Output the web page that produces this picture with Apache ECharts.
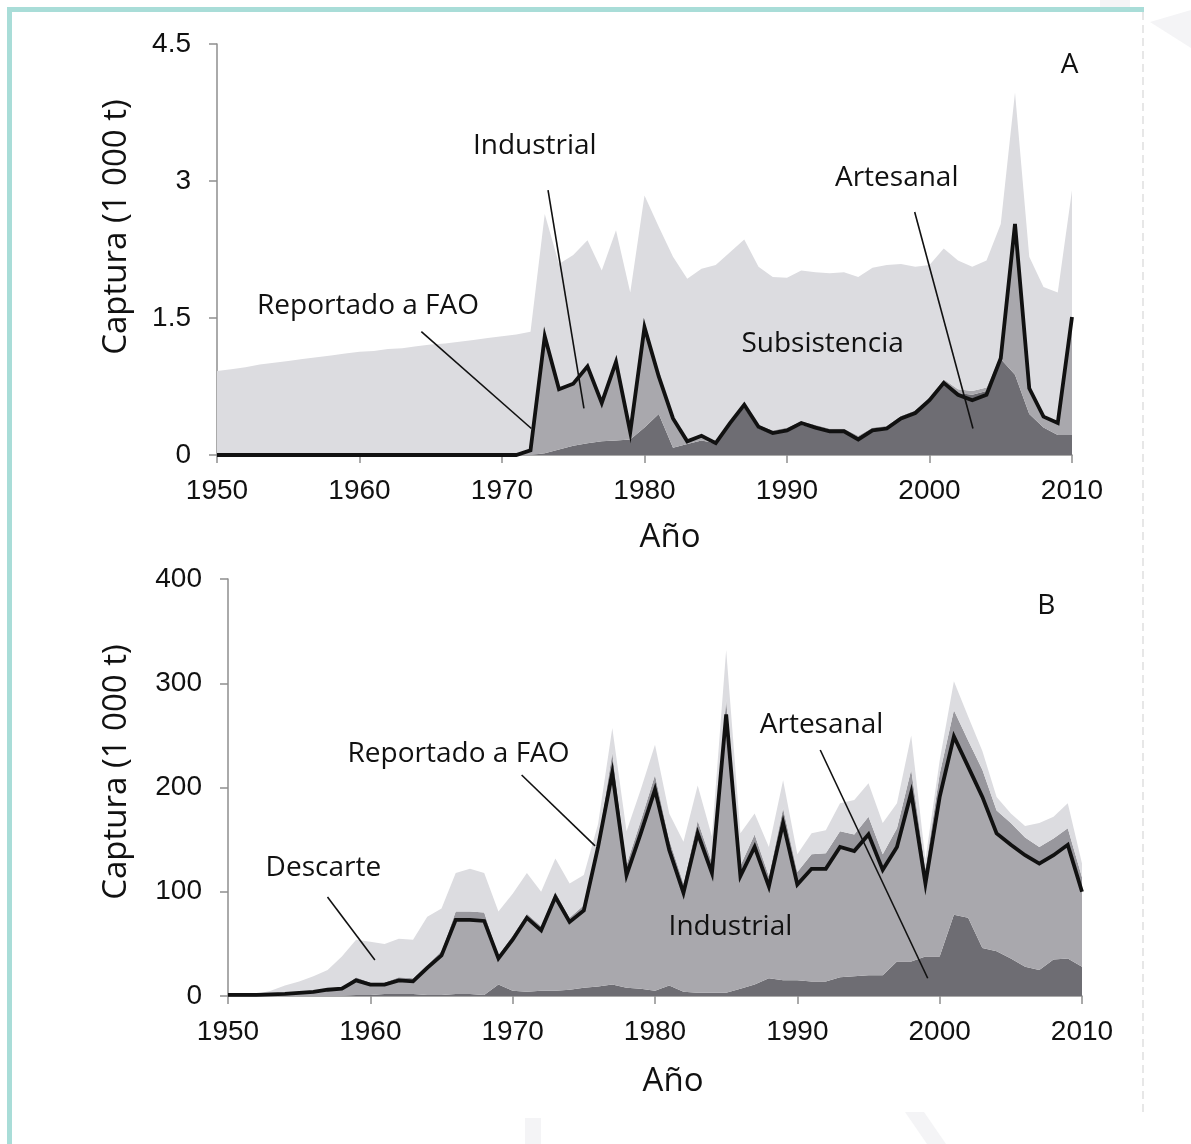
<!DOCTYPE html>
<html><head><meta charset="utf-8">
<script src="https://cdn.jsdelivr.net/npm/echarts@6/dist/echarts.min.js"></script>
<style>html,body{margin:0;padding:0;background:#fff}#c{width:1191px;height:1144px}</style>
</head><body><div id="c"></div>
<script>
// ---- categories ----
const years = [1950,1951,1952,1953,1954,1955,1956,1957,1958,1959,
1960,1961,1962,1963,1964,1965,1966,1967,1968,1969,
1970,1971,1972,1973,1974,1975,1976,1977,1978,1979,
1980,1981,1982,1983,1984,1985,1986,1987,1988,1989,
1990,1991,1992,1993,1994,1995,1996,1997,1998,1999,
2000,2001,2002,2003,2004,2005,2006,2007,2008,2009,2010];

// ---- Panel A (1 000 t) ----
const A_artesanal = [0,0,0,0,0,0,0,0,0,0, 0,0,0,0,0,0,0,0,0,0, 0,0,0,
0.02,0.06,0.10,0.13,0.15,0.16,0.17,0.30,0.45,0.08,0.12,0.16,0.13,0.33,0.52,0.29,0.23,0.26,0.33,0.29,0.25,0.25,0.17,0.26,0.28,0.39,0.45,0.58,0.78,0.68,0.66,0.70,1.05,0.88,0.45,0.30,0.22,0.22];
const A_industrial = [0,0,0,0,0,0,0,0,0,0, 0,0,0,0,0,0,0,0,0,0, 0,0,0.04,
1.28,0.66,0.68,0.84,0.42,0.86,0.08,1.10,0.41,0.32,0.05,0.05,0.03,0.04,0.05,0.04,0.04,0.04,0.04,0.04,0.04,0.04,0.04,0.04,0.04,0.04,0.04,0.04,0.05,0.04,0.04,0.04,0.05,1.65,0.28,0.12,0.14,1.29];
const A_subsistencia = [0.92,0.94,0.96,0.99,1.01,1.03,1.05,1.07,1.09,1.11,1.13,1.14,1.16,1.17,1.19,1.21,1.22,1.24,1.26,1.28,1.30,1.32,1.31,
1.34,1.37,1.41,1.38,1.45,1.44,1.53,1.44,1.64,1.77,1.76,1.83,1.92,1.85,1.79,1.73,1.68,1.64,1.65,1.67,1.70,1.71,1.74,1.75,1.76,1.66,1.57,1.46,1.43,1.41,1.36,1.39,1.43,1.44,1.44,1.42,1.42,1.39];
const A_reportado = [0,0,0,0,0,0,0,0,0,0, 0,0,0,0,0,0,0,0,0,0, 0,0,0.05,
1.30,0.72,0.78,0.97,0.57,1.02,0.25,1.40,0.86,0.40,0.15,0.21,0.13,0.35,0.55,0.31,0.24,0.27,0.35,0.30,0.26,0.26,0.17,0.27,0.29,0.40,0.46,0.60,0.79,0.66,0.60,0.66,1.06,2.53,0.73,0.42,0.35,1.51];
const A_ticks = [0, 1.5, 3, 4.5];

// ---- Panel B (1 000 t) ----
const B_artesanal = [0,0,0,0,0,0,0,0,0,1, 1,2,2,2,1,1,2,2,1,11,
5,4,5,5,6,8,9,11,8,7, 5,10,4,3,3,3,7,11,17,15, 15,14,14,18,19,20,20,33,33,38, 38,78,75,46,43,36,28,25,35,36,28];
const B_industrial = [1,1,1,1.5,2,3,4,6,7,14, 10,9,13,12,26,38,71,71,71,25,
49,71,58,90,65,74,134,203,108,149, 193,130,95,153,115,267,108,132,88,151,
92,108,108,125,120,135,101,110,162,70, 153,171,145,145,113,109,107,102,100,109,72];
const B_otros = [0,0,0,0.5,0.5,1,1,1,1.5,3, 2,2,3,3,3,4,8,8,8,3,
4,4,4,5,4,5,5,19,10,12, 14,10,9,12,10,14,10,12,10,14,
12,14,15,15,16,17,15,18,22,14, 22,25,25,26,22,21,17,16,16,16,14];
const B_descarte = [0,0,1,3,7.5,10,14,18,29.5,36, 39,37,37,37,46,41,37,41,38,42,
40,39,33,32,33,29,17,24,32,30, 29,25,40,34,25,48,31,20,28,27,
17,20,22,27,33,32,30,24,33,9, 13,28,23,18,13,9,11,23,21,24,13];
const B_reportado = [1,1,1,1.5,2,3,4,6,7,15, 11,11,15,14,27,39,73,73,72,36,
54,75,63,95,71,82,143,214,116,156, 198,140,99,156,118,270,115,143,105,166,
107,122,122,143,139,155,121,143,195,108, 191,249,220,191,156,145,135,127,135,145,100];
const B_ticks = [0, 100, 200, 300, 400];

// ---- annotations (data coordinates: year, value) ----
const A_labels = [
  {text:'Industrial', at:[1972.3, 3.38]},
  {text:'Reportado a FAO', at:[1960.6, 1.63]},
  {text:'Subsistencia', at:[1992.5, 1.22]},
  {text:'Artesanal', at:[1997.7, 3.03]}
];
const A_leaders = [
  [[1973.23, 2.90],[1975.75, 0.51]],
  [[1964.34, 1.35],[1972.06, 0.29]],
  [[1998.96, 2.66],[2003.05, 0.29]]
];
const B_labels = [
  {text:'Reportado a FAO', at:[1966.2, 232]},
  {text:'Descarte', at:[1956.7, 123]},
  {text:'Industrial', at:[1985.3, 66]},
  {text:'Artesanal', at:[1991.7, 260]}
];
const B_leaders = [
  [[1970.63, 212],[1975.79, 144]],
  [[1956.99, 95],[1960.32, 34.5]],
  [[1991.61, 236],[1999.16, 17]]
];

const COL_DARK = '#6e6d73', COL_MED = '#a9a8ad', COL_BAND = '#98979d', COL_LIGHT = '#dcdce0';
const axisCol = '#8e8e8e';
const tickFont = {color:'#111', fontFamily:'Liberation Sans, Arial, sans-serif', fontSize:28};

function catAxis(g){
  return {type:'category', gridIndex:g, data:years.map(String), boundaryGap:false,
    axisLine:{show:true, lineStyle:{color:axisCol, width:1.5}},
    axisTick:{show:true, interval:9, length:8, lineStyle:{color:axisCol, width:1.5}},
    axisLabel:Object.assign({interval:9, margin:22}, tickFont),
    splitLine:{show:false}};
}
function valAxis(g, max, interval){
  return {type:'value', gridIndex:g, min:0, max:max, interval:interval,
    axisLine:{show:true, lineStyle:{color:axisCol, width:1.5}},
    axisTick:{show:true, length:8, lineStyle:{color:axisCol, width:1.5}},
    axisLabel:Object.assign({margin:26}, tickFont),
    splitLine:{show:false}};
}
function area(name, g, stack, data, color){
  return {name, type:'line', xAxisIndex:g, yAxisIndex:g, stack, data, symbol:'none',
    lineStyle:{width:0}, areaStyle:{color, opacity:1}, itemStyle:{color}, z:2, silent:true, animation:false};
}
function repLine(g, data){
  return {name:'Reportado a FAO', type:'line', xAxisIndex:g, yAxisIndex:g, data, symbol:'none',
    lineStyle:{color:'#111', width:3.8, join:'miter'}, z:5, silent:true, animation:false};
}

const chart = echarts.init(document.getElementById('c'), null, {renderer:'canvas'});
chart.setOption({
  backgroundColor:'#ffffff',
  animation:false,
  grid:[
    {left:217, top:44, width:855, height:411},
    {left:228, top:579, width:854, height:417}
  ],
  xAxis:[catAxis(0), catAxis(1),
    {type:'value', gridIndex:0, min:1950, max:2010, show:false},
    {type:'value', gridIndex:1, min:1950, max:2010, show:false}],
  yAxis:[valAxis(0, A_ticks[A_ticks.length-1], A_ticks[1]-A_ticks[0]),
         valAxis(1, B_ticks[B_ticks.length-1], B_ticks[1]-B_ticks[0])],
  series:[
    area('Artesanal', 0, 'a', A_artesanal, COL_DARK),
    area('Industrial', 0, 'a', A_industrial, COL_MED),
    area('Subsistencia', 0, 'a', A_subsistencia, COL_LIGHT),
    repLine(0, A_reportado),
    area('Artesanal', 1, 'b', B_artesanal, COL_DARK),
    area('Industrial', 1, 'b', B_industrial, COL_MED),
    area('Otros', 1, 'b', B_otros, COL_BAND),
    area('Descarte', 1, 'b', B_descarte, COL_LIGHT),
    repLine(1, B_reportado)
  ]
});

function px(g, p){ return chart.convertToPixel({xAxisIndex: g===0?2:3, yAxisIndex:g}, p); }
const annFont = {fontFamily:'Open Sans, Noto Sans, sans-serif', fontSize:28, fill:'#111'};
const titleFont = {fontFamily:'Open Sans, Noto Sans, sans-serif', fontSize:33, fill:'#111'};
const gfx = [];
// frame
gfx.push({type:'rect', shape:{x:7,y:7,width:5,height:1137}, style:{fill:'#a9ddd8'}, z:1});
gfx.push({type:'rect', shape:{x:7,y:7,width:1137,height:5}, style:{fill:'#a9ddd8'}, z:1});
gfx.push({type:'line', shape:{x1:1143,y1:12,x2:1143,y2:1112}, style:{stroke:'#cfcfcf', lineWidth:1, lineDash:[8,5]}, z:1});
gfx.push({type:'polygon', shape:{points:[[1150,22],[1191,10],[1191,48]]}, style:{fill:'#f4f4f6'}, z:0});
gfx.push({type:'polygon', shape:{points:[[1100,0],[1130,0],[1130,7],[1100,7]]}, style:{fill:'#f4f4f6'}, z:0});
gfx.push({type:'polygon', shape:{points:[[525,1118],[541,1118],[541,1144],[525,1144]]}, style:{fill:'#f4f4f6'}, z:0});
gfx.push({type:'polygon', shape:{points:[[905,1112],[924,1112],[946,1144],[927,1144]]}, style:{fill:'#f4f4f6'}, z:0});
[[0,A_labels,A_leaders],[1,B_labels,B_leaders]].forEach(([g, labels, leaders])=>{
  labels.forEach(l=>{
    const p = px(g, l.at);
    gfx.push({type:'text', x:p[0], y:p[1], z:20, style:Object.assign({text:l.text, textAlign:'center', textVerticalAlign:'middle'}, annFont)});
  });
  leaders.forEach(seg=>{
    const a = px(g, seg[0]), b = px(g, seg[1]);
    gfx.push({type:'line', z:20, shape:{x1:a[0],y1:a[1],x2:b[0],y2:b[1]}, style:{stroke:'#111', lineWidth:1.6}});
  });
});
const panelTag = [[0,'A',[2009.84,4.27]],[1,'B',[2007.5,374]]];
panelTag.forEach(([g,t,at])=>{
  const p = px(g, at);
  gfx.push({type:'text', x:p[0], y:p[1], z:20, style:Object.assign({text:t, textAlign:'center', textVerticalAlign:'middle'}, annFont)});
});
// axis titles
[[117,227],[117,772]].forEach(c=>{
  gfx.push({type:'text', x:c[0], y:c[1], rotation:Math.PI/2, z:20, style:Object.assign({text:'Captura (1 000 t)', textAlign:'center', textVerticalAlign:'middle'}, titleFont)});
});
[[670,538],[673,1082]].forEach(c=>{
  gfx.push({type:'text', x:c[0], y:c[1], z:20, style:Object.assign({text:'Año', textAlign:'center', textVerticalAlign:'middle'}, titleFont)});
});
chart.setOption({graphic:gfx});
</script>
</body></html>
